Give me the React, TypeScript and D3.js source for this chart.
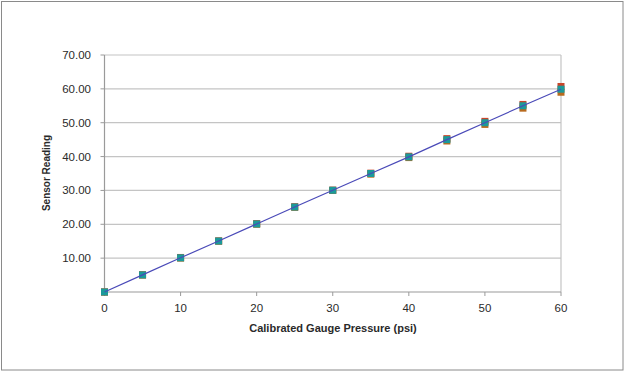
import React from "react";
import * as d3 from "d3";

const pressures = [0, 5, 10, 15, 20, 25, 30, 35, 40, 45, 50, 55, 60];
const upReadings = [0, 5.1, 10.2, 15.1, 20.2, 25.2, 30.1, 35.1, 40.1, 45.3, 50.4, 55.4, 60.7];
const downReadings = [0, 5.0, 10.0, 15.0, 20.0, 25.0, 30.0, 34.8, 39.7, 44.6, 49.5, 54.3, 59.0];
const avgReadings = [0, 5.05, 10.1, 15.05, 20.1, 25.1, 30.05, 35.0, 39.9, 45.0, 50.0, 55.0, 59.9];
const yTicks = [10, 20, 30, 40, 50, 60, 70];
const xTicks = [0, 10, 20, 30, 40, 50, 60];

const W = 626, H = 373;
const left = 104.5, right = 561, top = 55, bottom = 292;

export default function App() {
  const x = d3.scaleLinear().domain([0, 60]).range([left, right]);
  const y = d3.scaleLinear().domain([0, 70]).range([bottom, top]);
  const line = d3.line<number>().x((_, i) => x(pressures[i])).y((d) => y(d));
  const font = "'Liberation Sans', Arial, sans-serif";
  const series = [
    { data: upReadings, color: "#c8452a" },
    { data: downReadings, color: "#b86a1e" },
    { data: avgReadings, color: "#1b9a9a" },
  ];
  return (
    <svg width={W} height={H} style={{ position: "absolute", left: 0, top: 0 }} fontFamily={font}>
      <rect x={0} y={0} width={W} height={H} fill="#fff" />
      <rect x={1.5} y={1.5} width={621.5} height={368.5} fill="none" stroke="#8a8a8a" strokeWidth={1} />
      {yTicks.map((t) => (
        <line key={t} x1={left} x2={right} y1={y(t)} y2={y(t)} stroke="#c4c4c4" strokeWidth={1.2} />
      ))}
      <line x1={right} x2={right} y1={top} y2={bottom} stroke="#c4c4c4" strokeWidth={1.2} />
      <line x1={left} x2={left} y1={top} y2={bottom} stroke="#9a9a9a" strokeWidth={1.2} />
      <line x1={left} x2={right} y1={bottom} y2={bottom} stroke="#9a9a9a" strokeWidth={1.2} />
      {yTicks.map((t) => (
        <g key={t}>
          <line x1={left - 4} x2={left} y1={y(t)} y2={y(t)} stroke="#9a9a9a" />
          <text x={91} y={y(t)} dy="0.35em" textAnchor="end" fontSize={11.5} fill="#2a2a2a">
            {t.toFixed(2)}
          </text>
        </g>
      ))}
      {xTicks.map((t) => (
        <g key={t}>
          <line x1={x(t)} x2={x(t)} y1={bottom} y2={bottom + 4} stroke="#9a9a9a" />
          <text x={x(t)} y={312} textAnchor="middle" fontSize={11.5} fill="#2a2a2a">
            {t}
          </text>
        </g>
      ))}
      <text x={333} y={332} textAnchor="middle" fontSize={11} fontWeight="bold" fill="#2a2a2a">
        Calibrated Gauge Pressure (psi)
      </text>
      <text transform={`translate(50,173) rotate(-90)`} textAnchor="middle" fontSize={10} fontWeight="bold" fill="#2a2a2a">
        Sensor Reading
      </text>
      {series.map((s, si) =>
        s.data.map((v, i) => (
          <rect key={`${si}-${i}`} x={x(pressures[i]) - 3.5} y={y(v) - 3.5} width={7} height={7} fill={s.color} />
        ))
      )}
      <path d={line(avgReadings) || ""} fill="none" stroke="#4a4ab8" strokeWidth={1.2} />
    </svg>
  );
}
